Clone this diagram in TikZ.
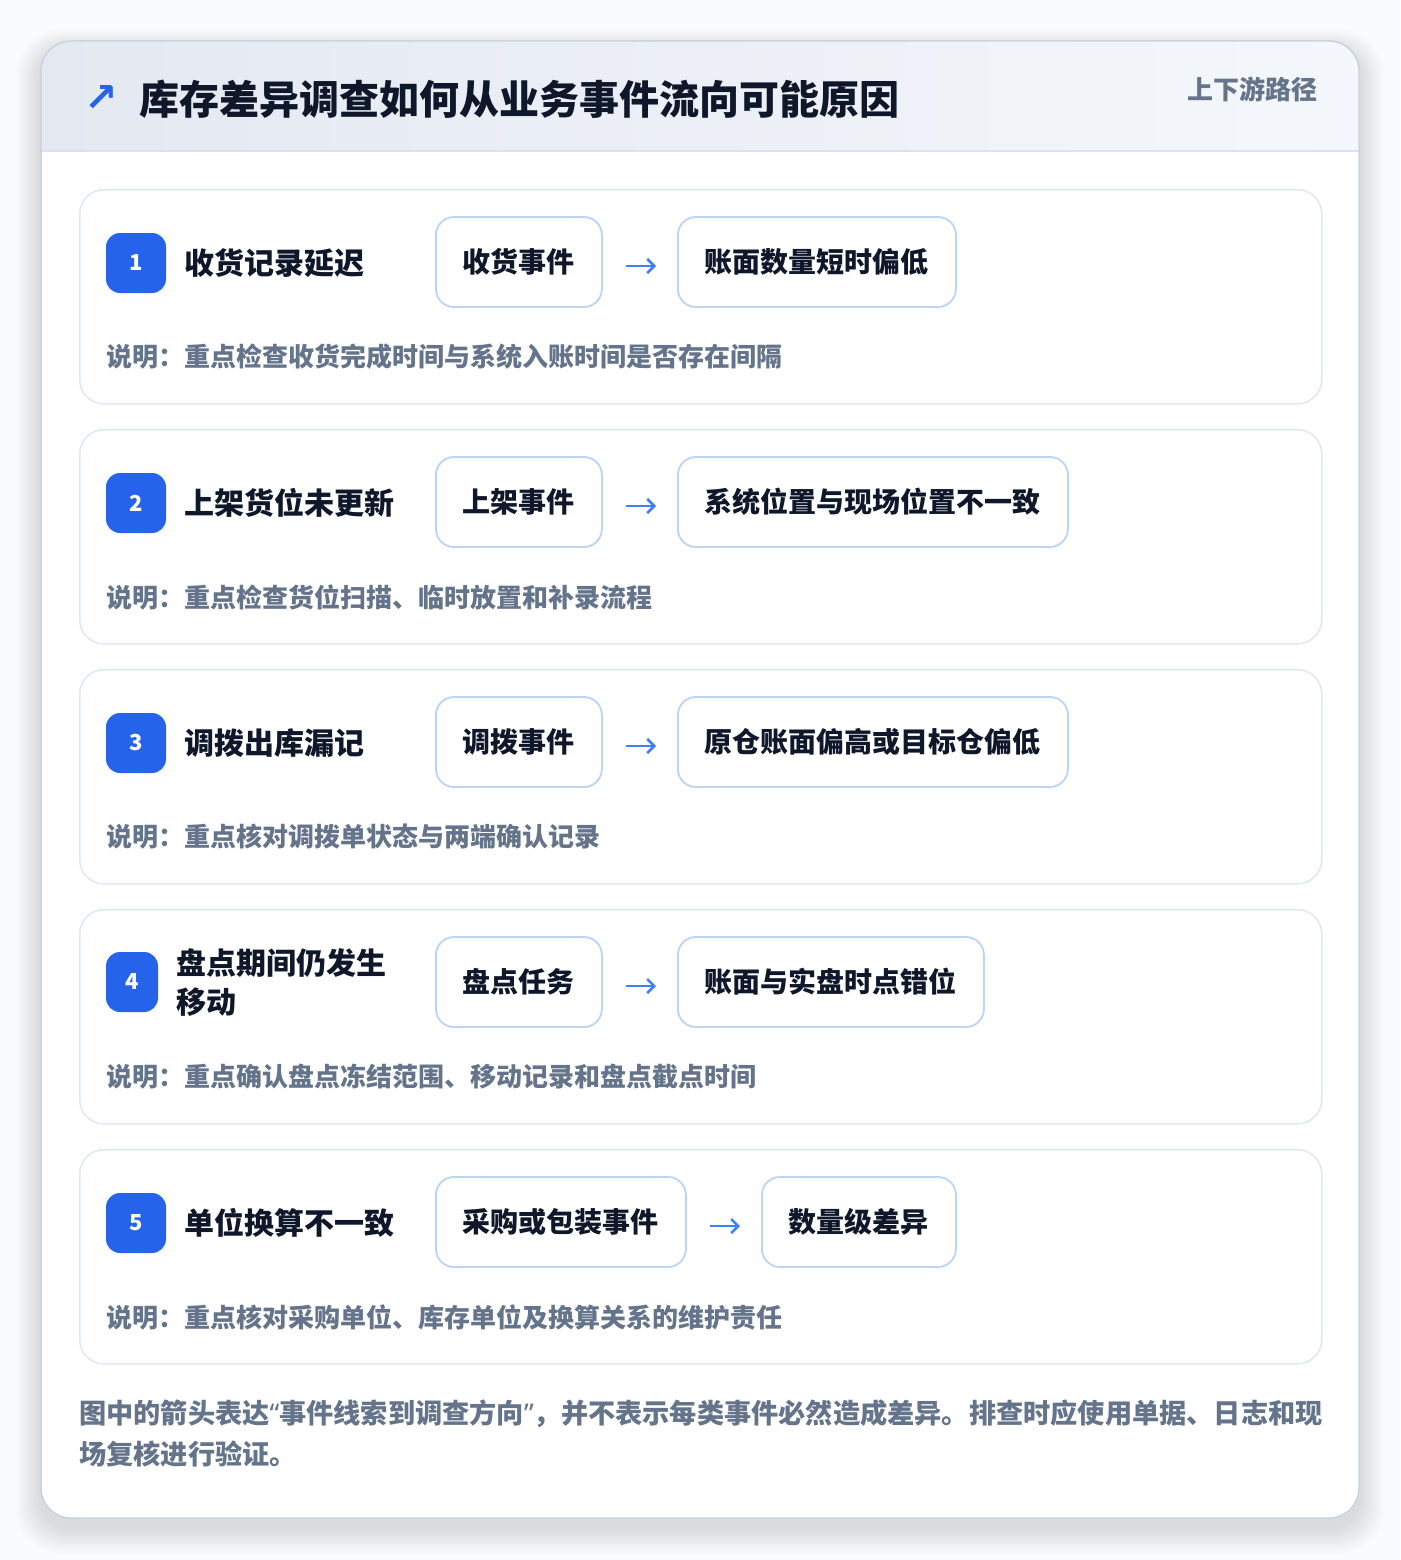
\documentclass[tikz,border=0pt]{standalone}
\usepackage{fontspec}
\setmainfont{Noto Sans CJK SC}
\newfontfamily\symfont{DejaVu Sans}
\newfontfamily\latinfont{Noto Sans}
\usetikzlibrary{arrows.meta}
\pgfdeclarelayer{bg}
\pgfsetlayers{bg,main}
\definecolor{ink}{HTML}{0F172A}
\definecolor{muted}{HTML}{64748B}
\definecolor{badgeblue}{HTML}{2563EB}
\definecolor{arrowblue}{HTML}{3B82F6}
\definecolor{rowline}{HTML}{DCE8F8}
\definecolor{evtline}{HTML}{BCD4F4}
\definecolor{cardline}{HTML}{CAD3E0}
\definecolor{headL}{HTML}{E4E9F1}
\definecolor{headR}{HTML}{F4F7FB}
\definecolor{headline}{HTML}{D5E3F5}
\definecolor{pagebg}{HTML}{FAFBFC}
\tikzset{
  rowbox/.style={draw=rowline, line width=1.5pt, fill=white, rounded corners=24pt,
    minimum width=1242pt, minimum height=214pt, anchor=north west, inner sep=0pt},
  badge/.style={fill=badgeblue, rounded corners=14pt, minimum width=60pt, minimum height=60pt,
    inner sep=0pt, text=white, font=\bfseries\fontsize{22}{26}\selectfont},
  lbl/.style={anchor=west, inner sep=0pt, text=ink, font=\bfseries\fontsize{30}{39}\selectfont, align=left},
  evt/.style={draw=evtline, line width=1.8pt, fill=white, rounded corners=18pt, anchor=west,
    minimum height=90pt, inner xsep=27pt, inner ysep=0pt, text=ink,
    font=\bfseries\fontsize{28}{34}\selectfont},
  desc/.style={anchor=west, inner sep=0pt, text=muted, font=\bfseries\fontsize{26}{32}\selectfont},
  flow/.style={draw=arrowblue, line width=2.6pt, -{Straight Barb[length=7pt,width=14pt,line width=2.6pt]},
    shorten <=23pt, shorten >=21pt},
}
% soft shadow behind a node: #1 node name
\newcommand{\evtshadow}[1]{%
  \begin{pgfonlayer}{bg}
  \foreach \s in {1,...,10}{
    \fill[black, opacity=0.008, rounded corners=18pt+\s pt]
      ([xshift=-\s pt, yshift=-6pt+\s pt]#1.north west) rectangle ([xshift=\s pt, yshift=-7pt-\s pt]#1.south east);
  }
  \end{pgfonlayer}}
\begin{document}
\begin{tikzpicture}[x=1pt,y=-1pt]
\useasboundingbox (0,0) rectangle (1400,1560);
\fill[pagebg] (0,0) rectangle (1400,1560);
% card shadow
\foreach \s in {1,...,16}{
  \fill[black, opacity=0.006, rounded corners=30pt+\s pt]
    (41-\s*1.6, 49-\s*1.2) rectangle (1359+\s*1.6, 1528+\s*1.6);
}
% card
\node[fill=white, rounded corners=30pt, anchor=north west,
  minimum width=1318pt, minimum height=1477pt, inner sep=0pt] (card) at (41,41) {};
\begin{scope}
  \clip[rounded corners=30pt] (41,41) rectangle (1359,1518);
  \shade[left color=headL, right color=headR] (41,41) rectangle (1359,151);
\end{scope}
\draw[headline, line width=1.5pt] (41,151) -- (1359,151);
\draw[cardline, line width=1.5pt, rounded corners=30pt] (41,41) rectangle (1359,1518);
% header
\node[inner sep=0pt, text=badgeblue, font=\symfont\bfseries\fontsize{40}{46}\selectfont] (icon) at (101,99) {↗};
\node[anchor=west, inner sep=0pt, text=ink, font=\bfseries\fontsize{40}{48}\selectfont] (title) at (139,99) {库存差异调查如何从业务事件流向可能原因};
\node[anchor=east, inner sep=0pt, text=muted, font=\bfseries\fontsize{26}{32}\selectfont] (tag) at (1318,89) {上下游路径};

% row 1
\node[rowbox] (row1) at (79,189) {};
\node[badge] (b1) at (136,263) {1};
\node[lbl] (l1) at (184,263) {收货记录延迟};
\node[evt] (e1) at (435,262) {收货事件};
\node[evt] (r1) at (677,262) {账面数量短时偏低};
\evtshadow{e1}\evtshadow{r1}
\draw[flow] ([yshift=-4pt]e1.east) -- ([yshift=-4pt]r1.west);
\node[desc] (d1) at (106,357) {说明：重点检查收货完成时间与系统入账时间是否存在间隔};

% row 2
\node[rowbox] (row2) at (79,429) {};
\node[badge] (b2) at (136,503) {2};
\node[lbl] (l2) at (184,503) {上架货位未更新};
\node[evt] (e2) at (435,502) {上架事件};
\node[evt] (r2) at (677,502) {系统位置与现场位置不一致};
\evtshadow{e2}\evtshadow{r2}
\draw[flow] ([yshift=-4pt]e2.east) -- ([yshift=-4pt]r2.west);
\node[desc] (d2) at (106,597) {说明：重点检查货位扫描、临时放置和补录流程};

% row 3
\node[rowbox] (row3) at (79,669) {};
\node[badge] (b3) at (136,743) {3};
\node[lbl] (l3) at (184,743) {调拨出库漏记};
\node[evt] (e3) at (435,742) {调拨事件};
\node[evt] (r3) at (677,742) {原仓账面偏高或目标仓偏低};
\evtshadow{e3}\evtshadow{r3}
\draw[flow] ([yshift=-4pt]e3.east) -- ([yshift=-4pt]r3.west);
\node[desc] (d3) at (106,837) {说明：重点核对调拨单状态与两端确认记录};

% row 4
\node[rowbox] (row4) at (79,909) {};
\node[badge, minimum width=52pt] (b4) at (132,982) {4};
\node[lbl] (l4) at (176,983) {盘点期间仍发生\\移动};
\node[evt] (e4) at (435,982) {盘点任务};
\node[evt] (r4) at (677,982) {账面与实盘时点错位};
\evtshadow{e4}\evtshadow{r4}
\draw[flow] ([yshift=-4pt]e4.east) -- ([yshift=-4pt]r4.west);
\node[desc] (d4) at (106,1077) {说明：重点确认盘点冻结范围、移动记录和盘点截点时间};

% row 5
\node[rowbox] (row5) at (79,1149) {};
\node[badge] (b5) at (136,1223) {5};
\node[lbl] (l5) at (184,1223) {单位换算不一致};
\node[evt] (e5) at (435,1222) {采购或包装事件};
\node[evt] (r5) at (761,1222) {数量级差异};
\evtshadow{e5}\evtshadow{r5}
\draw[flow] ([yshift=-4pt]e5.east) -- ([yshift=-4pt]r5.west);
\node[desc] (d5) at (106,1317) {说明：重点核对采购单位、库存单位及换算关系的维护责任};

% footnote
\node[anchor=north west, inner sep=0pt, text=muted, align=left,
  font=\bfseries\fontsize{27.2}{41}\selectfont] (note) at (79,1400)
  {图中的箭头表达{\latinfont “}事件线索到调查方向{\latinfont ”}，并不表示每类事件必然造成差异。排查时应使用单据、日志和现\\场复核进行验证。};
\end{tikzpicture}
\end{document}
